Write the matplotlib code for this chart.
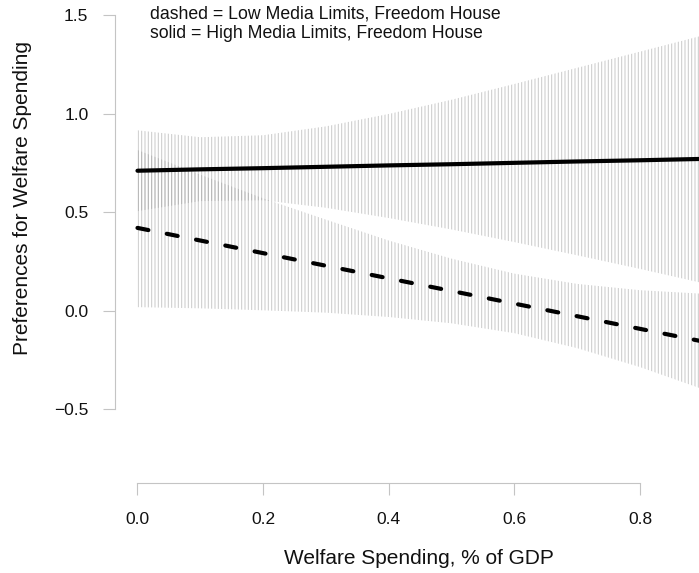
import matplotlib
matplotlib.use("Agg")
import matplotlib.pyplot as plt

plt.rcParams['font.family'] = ['Liberation Sans', 'DejaVu Sans']
plt.rcParams['hatch.linewidth'] = 0.75
plt.rcParams['lines.scale_dashes'] = False

# Data
x_vals = [0.0, 0.1, 0.2, 0.3, 0.4, 0.5, 0.6, 0.7, 0.8, 0.9]

high_fit   = [0.710, 0.717, 0.723, 0.730, 0.737, 0.743, 0.750, 0.757, 0.763, 0.770]
high_upper = [0.915, 0.880, 0.890, 0.935, 0.998, 1.070, 1.150, 1.232, 1.314, 1.396]
high_lower = [0.505, 0.556, 0.560, 0.522, 0.470, 0.412, 0.348, 0.281, 0.212, 0.140]

low_fit   = [0.420, 0.356, 0.292, 0.228, 0.164, 0.100, 0.036, -0.028, -0.092, -0.156]
low_upper = [0.815, 0.690, 0.570, 0.462, 0.356, 0.264, 0.188, 0.136, 0.104, 0.086]
low_lower = [0.018, 0.012, 0.002, -0.010, -0.032, -0.064, -0.114, -0.190, -0.286, -0.398]

x_ticks = [0.0, 0.2, 0.4, 0.6, 0.8]
x_ticklabels = ["0.0", "0.2", "0.4", "0.6", "0.8"]
y_ticks = [-0.5, 0.0, 0.5, 1.0, 1.5]
y_ticklabels = ["\u22120.5", "0.0", "0.5", "1.0", "1.5"]

W, H = 699, 573
fig = plt.figure(figsize=(W / 100, H / 100), dpi=100)
ax = fig.add_axes([115 / W, 1 - 483 / H, (W - 115) / W, 483 / H])
ax.set_xlim(-0.0358, 0.894)
ax.set_ylim(-0.874, 1.576)

hatch_col = (0.6, 0.6, 0.6, 0.5)
ax.fill_between(x_vals, low_lower, low_upper, facecolor='none',
                edgecolor=hatch_col, hatch='|||||', linewidth=0)
ax.fill_between(x_vals, high_lower, high_upper, facecolor='none',
                edgecolor=hatch_col, hatch='|||||', linewidth=0)

ax.plot(x_vals, high_fit, color='black', lw=3.0, solid_capstyle='round')
ax.plot(x_vals, low_fit, color='black', lw=3.0, dashes=(8, 13.5),
        dash_capstyle='round')

axis_col = '#c4c4c4'
for s in ['top', 'right']:
    ax.spines[s].set_visible(False)
ax.spines['left'].set_bounds(-0.5, 1.5)
ax.spines['bottom'].set_bounds(0.0, 0.8)
for s in ['left', 'bottom']:
    ax.spines[s].set_color(axis_col)
    ax.spines[s].set_linewidth(0.8)

ax.set_xticks(x_ticks)
ax.set_xticklabels(x_ticklabels)
ax.set_yticks(y_ticks)
ax.set_yticklabels(y_ticklabels)
ax.tick_params(axis='both', direction='out', length=8.6, width=0.8,
               color=axis_col, labelsize=12.5, labelcolor='#111111')
ax.tick_params(axis='y', pad=10.5)
ax.tick_params(axis='x', pad=12.5)

fig.text(419 / W, 1 - 558 / H, "Welfare Spending, % of GDP", ha='center',
         va='center', fontsize=15, color='#111111')
fig.text(23 / W, 1 - 198 / H, "Preferences for Welfare Spending", ha='center',
         va='center', rotation=90, fontsize=15, color='#111111')

ax.text(150 / W, 1 - 14 / H, "dashed = Low Media Limits, Freedom House",
        transform=fig.transFigure, ha='left', va='center', fontsize=12.7,
        color='#111111')
ax.text(150 / W, 1 - 34 / H, "solid = High Media Limits, Freedom House",
        transform=fig.transFigure, ha='left', va='center', fontsize=12.7,
        color='#111111')

fig.savefig("out.png", dpi=100)
